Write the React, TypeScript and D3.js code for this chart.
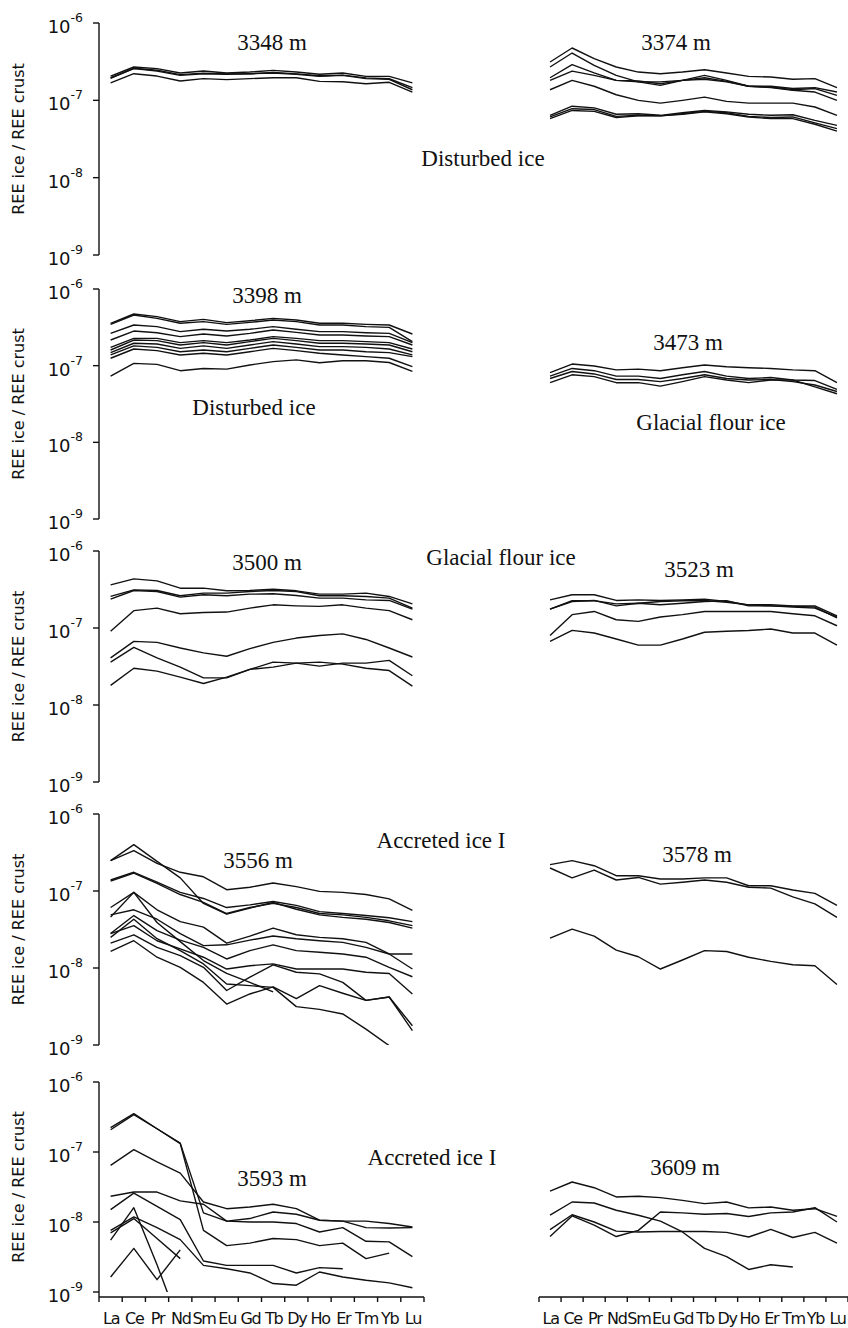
import { useEffect, useRef } from "react";
import * as d3 from "d3";

const elements = ["La", "Ce", "Pr", "Nd", "Sm", "Eu", "Gd", "Tb", "Dy", "Ho", "Er", "Tm", "Yb", "Lu"];
const yTicks = [1e-6, 1e-7, 1e-8, 1e-9];
const tickExp = ["-6", "-7", "-8", "-9"];

// REE ice / REE crust, one array per sample, values x 1e-7
const d3348 = [
  [2.05, 2.7, 2.57, 2.26, 2.39, 2.26, 2.32, 2.44, 2.32, 2.17, 2.26, 2.04, 2.04, 1.68],
  [1.96, 2.57, 2.39, 2.1, 2.21, 2.17, 2.21, 2.26, 2.17, 2.04, 2.1, 1.91, 1.87, 1.37],
  [1.93, 2.6, 2.45, 2.15, 2.25, 2.2, 2.2, 2.3, 2.2, 2.08, 2.12, 1.95, 1.9, 1.46],
  [1.68, 2.21, 2.06, 1.78, 1.91, 1.85, 1.91, 1.96, 1.96, 1.76, 1.74, 1.64, 1.71, 1.28],
];

const d3374 = [
  [3.13, 4.75, 3.46, 2.7, 2.32, 2.21, 2.32, 2.49, 2.26, 2.04, 2.0, 1.87, 1.91, 1.46],
  [2.7, 4.09, 2.84, 2.1, 1.73, 1.56, 1.81, 2.1, 1.81, 1.52, 1.52, 1.42, 1.46, 1.28],
  [1.96, 2.89, 2.26, 1.81, 1.78, 1.64, 1.81, 1.96, 1.76, 1.52, 1.49, 1.37, 1.42, 1.16],
  [1.81, 2.39, 2.1, 1.81, 1.73, 1.73, 1.81, 1.87, 1.73, 1.52, 1.46, 1.35, 1.28, 1.0],
  [1.37, 1.81, 1.52, 1.18, 1.0, 0.92, 1.0, 1.1, 0.97, 0.92, 0.92, 0.92, 0.82, 0.64],
  [0.64, 0.84, 0.8, 0.66, 0.67, 0.64, 0.69, 0.74, 0.71, 0.66, 0.64, 0.65, 0.55, 0.475],
  [0.61, 0.78, 0.76, 0.62, 0.64, 0.63, 0.67, 0.72, 0.69, 0.62, 0.6, 0.61, 0.51, 0.43],
  [0.58, 0.74, 0.72, 0.6, 0.63, 0.63, 0.66, 0.71, 0.67, 0.61, 0.58, 0.58, 0.49, 0.4],
];

const d3398 = [
  [3.57, 4.72, 4.36, 3.75, 4.02, 3.64, 3.86, 4.14, 3.94, 3.57, 3.57, 3.46, 3.39, 2.59],
  [3.46, 4.58, 4.14, 3.57, 3.75, 3.46, 3.67, 3.94, 3.75, 3.39, 3.39, 3.23, 3.16, 2.06],
  [2.64, 3.39, 3.23, 2.78, 2.98, 2.83, 2.98, 3.23, 2.98, 2.78, 2.78, 2.69, 2.64, 2.0],
  [2.16, 2.83, 2.69, 2.39, 2.59, 2.44, 2.64, 2.92, 2.72, 2.51, 2.51, 2.44, 2.39, 1.86],
  [1.73, 2.27, 2.27, 2.0, 2.12, 2.0, 2.16, 2.39, 2.27, 2.12, 2.12, 2.06, 2.0, 1.65],
  [1.6, 2.16, 2.12, 1.86, 2.0, 1.86, 2.06, 2.27, 2.12, 1.96, 1.96, 1.92, 1.86, 1.52],
  [1.48, 1.96, 1.92, 1.68, 1.81, 1.68, 1.86, 2.06, 1.92, 1.77, 1.77, 1.73, 1.65, 1.38],
  [1.38, 1.81, 1.73, 1.52, 1.6, 1.52, 1.68, 1.86, 1.73, 1.6, 1.6, 1.52, 1.48, 1.31],
  [1.25, 1.65, 1.57, 1.38, 1.45, 1.38, 1.52, 1.68, 1.57, 1.45, 1.38, 1.31, 1.25, 0.97],
  [0.73, 1.07, 1.04, 0.86, 0.92, 0.9, 1.02, 1.13, 1.19, 1.09, 1.16, 1.16, 1.1, 0.84],
];

const d3473 = [
  [0.81, 1.05, 0.99, 0.88, 0.9, 0.86, 0.94, 1.02, 0.97, 0.94, 0.92, 0.88, 0.86, 0.6],
  [0.73, 0.92, 0.86, 0.73, 0.73, 0.68, 0.76, 0.84, 0.73, 0.68, 0.7, 0.65, 0.64, 0.49],
  [0.68, 0.84, 0.78, 0.66, 0.66, 0.62, 0.68, 0.76, 0.68, 0.65, 0.66, 0.62, 0.56, 0.46],
  [0.6, 0.76, 0.72, 0.6, 0.6, 0.54, 0.62, 0.72, 0.65, 0.6, 0.65, 0.65, 0.53, 0.43],
];

const d3500 = [
  [3.63, 4.35, 4.09, 3.29, 3.29, 3.04, 3.07, 3.19, 3.04, 2.75, 2.75, 2.84, 2.57, 2.06],
  [2.57, 3.13, 3.07, 2.62, 2.84, 2.84, 2.98, 3.07, 2.98, 2.62, 2.62, 2.57, 2.44, 1.81],
  [2.37, 3.07, 2.98, 2.52, 2.7, 2.62, 2.75, 2.78, 2.64, 2.44, 2.44, 2.32, 2.28, 1.76],
  [0.906, 1.68, 1.81, 1.53, 1.59, 1.61, 1.81, 2.0, 1.94, 1.91, 2.0, 1.81, 1.68, 1.28],
  [0.41, 0.67, 0.65, 0.55, 0.475, 0.43, 0.54, 0.65, 0.74, 0.8, 0.84, 0.71, 0.55, 0.42],
  [0.36, 0.56, 0.41, 0.31, 0.225, 0.225, 0.29, 0.36, 0.35, 0.32, 0.35, 0.35, 0.38, 0.24],
  [0.18, 0.3, 0.275, 0.23, 0.19, 0.23, 0.29, 0.31, 0.35, 0.36, 0.34, 0.3, 0.28, 0.176],
];

const d3523 = [
  [2.32, 2.7, 2.7, 2.28, 2.32, 2.28, 2.32, 2.37, 2.21, 2.0, 2.0, 1.94, 1.94, 1.44],
  [1.76, 2.21, 2.28, 1.94, 2.1, 2.21, 2.26, 2.28, 2.15, 2.0, 1.94, 1.87, 1.81, 1.39],
  [1.76, 2.26, 2.26, 2.06, 2.1, 2.0, 2.1, 2.21, 2.26, 1.94, 1.94, 1.91, 1.87, 1.35],
  [0.8, 1.49, 1.64, 1.28, 1.22, 1.39, 1.49, 1.64, 1.64, 1.64, 1.64, 1.53, 1.44, 1.07],
  [0.67, 0.93, 0.86, 0.72, 0.6, 0.6, 0.72, 0.88, 0.906, 0.93, 0.97, 0.86, 0.86, 0.6],
];

const d3556 = [
  [2.48, 3.34, 2.29, 1.75, 1.53, 1.04, 1.12, 1.27, 1.14, 0.99, 0.96, 0.9, 0.79, 0.56],
  [2.48, 4.0, 2.43, 1.48, 0.69, 0.5, 0.6, 0.71, 0.58, 0.49, 0.455, 0.43, 0.39, 0.33],
  [1.39, 1.75, 1.3, 0.96, 0.8, 0.61, 0.66, 0.73, 0.65, 0.54, 0.51, 0.48, 0.45, 0.4],
  [1.34, 1.71, 1.26, 0.9, 0.71, 0.51, 0.61, 0.69, 0.61, 0.51, 0.49, 0.455, 0.41, 0.355],
  [0.61, 0.96, 0.57, 0.4, 0.34, 0.21, 0.26, 0.33, 0.27, 0.25, 0.24, 0.215, 0.152, 0.152],
  [0.49, 0.57, 0.43, 0.28, 0.195, 0.2, 0.23, 0.26, 0.24, 0.226, 0.215, 0.185, 0.152, 0.097],
  [0.46, 0.96, 0.39, 0.22, 0.125, 0.085, 0.065, 0.049, null, null, null, null, null, null],
  [0.28, 0.48, 0.305, 0.23, 0.185, 0.131, 0.168, 0.2, 0.168, 0.16, 0.152, 0.138, 0.102, 0.077],
  [0.28, 0.355, 0.226, 0.177, 0.138, 0.097, 0.107, 0.113, 0.097, 0.097, 0.097, 0.088, 0.085, 0.046],
  [0.21, 0.27, 0.185, 0.145, 0.102, 0.051, 0.076, 0.11, 0.088, 0.084, 0.065, 0.038, 0.042, 0.0178],
  [0.164, 0.226, 0.138, 0.102, 0.065, 0.034, 0.046, 0.057, 0.04, 0.059, 0.047, 0.038, 0.042, 0.0154],
  [0.25, 0.43, 0.24, 0.168, 0.113, 0.062, 0.059, 0.056, 0.0315, 0.029, 0.0253, 0.0161, 0.0098, null],
];

const d3578 = [
  [2.2, 2.48, 2.13, 1.58, 1.58, 1.43, 1.43, 1.48, 1.48, 1.17, 1.17, 1.03, 0.93, 0.65],
  [1.99, 1.48, 1.87, 1.39, 1.5, 1.23, 1.3, 1.39, 1.3, 1.12, 1.09, 0.84, 0.68, 0.455],
  [0.245, 0.32, 0.26, 0.171, 0.14, 0.097, 0.127, 0.168, 0.164, 0.138, 0.122, 0.11, 0.107, 0.061],
];

// values x 1e-8
const d3593 = [
  [22.3, 35.3, 21.5, 13.4, 1.35, 1.03, 1.12, 1.39, 1.29, 1.06, 1.03, 1.03, 0.95, 0.85],
  [20.8, 34.1, 21.5, 13.2, 0.76, 0.46, 0.5, 0.58, 0.56, 0.46, 0.5, 0.3, 0.36, null],
  [6.45, 10.8, 7.2, 5.0, 1.93, 1.55, 1.64, 1.79, 1.55, 1.06, 1.03, 0.83, 0.82, 0.83],
  [2.33, 2.68, 2.68, 2.0, 1.79, 1.03, 1.0, 1.0, 0.95, 0.72, 0.83, 0.53, 0.52, 0.32],
  [1.5, 2.59, 1.67, 1.08, 0.277, 0.24, 0.24, 0.24, 0.187, 0.223, 0.215, null, null, null],
  [0.76, 1.18, 0.83, 0.56, 0.24, 0.215, 0.187, 0.132, 0.125, 0.193, 0.164, 0.147, 0.135, 0.115],
  [0.164, 0.42, 0.15, 0.4, null, null, null, null, null, null, null, null, null, null],
  [0.55, 1.6, 0.245, 0.032, null, null, null, null, null, null, null, null, null, null],
  [0.7, 1.12, 0.58, 0.3, null, null, null, null, null, null, null, null, null, null],
];

const d3609 = [
  [2.77, 3.73, 3.09, 2.28, 2.33, 2.23, 2.04, 1.83, 1.93, 1.59, 1.64, 1.47, 1.55, 1.2],
  [1.25, 1.93, 1.87, 1.47, 1.25, 1.03, 0.72, 0.42, 0.32, 0.21, 0.245, 0.228, null, null],
  [0.78, 1.27, 1.0, 0.74, 0.72, 0.73, 0.73, 0.73, 0.71, 0.61, 0.785, 0.6, 0.71, 0.5],
  [0.62, 1.22, 0.9, 0.62, 0.76, 1.39, 1.35, 1.29, 1.32, 1.2, 1.35, 1.39, 1.6, 1.0],
];

const depths = ["3348 m", "3374 m", "3398 m", "3473 m", "3500 m", "3523 m", "3556 m", "3578 m", "3593 m", "3609 m"];
const units = [1e-7, 1e-7, 1e-7, 1e-7, 1e-7, 1e-7, 1e-7, 1e-7, 1e-8, 1e-8];
const samples = [d3348, d3374, d3398, d3473, d3500, d3523, d3556, d3578, d3593, d3609];
const facies = ["Disturbed ice", "Disturbed ice", "Glacial flour ice", "Glacial flour ice", "Accreted ice I", "Accreted ice I"];

export default function App() {
  const ref = useRef<SVGSVGElement>(null);

  useEffect(() => {
    const svg = d3.select(ref.current);
    svg.selectAll("*").remove();

    // layout, in px
    const rows = [
      { top: 23, bottom: 255 },
      { top: 289, bottom: 519 },
      { top: 551, bottom: 782 },
      { top: 814, bottom: 1045 },
      { top: 1082, bottom: 1292 },
    ];
    const cols: [number, number][] = [[99, 424], [539, 848]];
    const axisY = 1297;
    const depthPos = [[272, 50], [676, 50], [267, 303], [688, 350], [267, 570], [699, 577], [258, 868], [697, 862], [272, 1186], [685, 1175]];
    const faciesPos = [[483, 166], [254, 415], [711, 430], [501, 565], [441, 848], [432, 1165]];
    const sans = "'DejaVu Sans', sans-serif";
    const serif = "'Liberation Serif', 'Times New Roman', serif";

    samples.forEach((lines, k) => {
      const row = rows[Math.floor(k / 2)];
      const x = d3.scaleBand().domain(elements).range(cols[k % 2]);
      const y = d3.scaleLog().domain([1e-9, 1e-6]).range([row.bottom, row.top]);
      const unit = units[k];

      svg.append("clipPath")
        .attr("id", `clip${k}`)
        .append("rect")
        .attr("x", cols[k % 2][0])
        .attr("y", row.top - 4)
        .attr("width", cols[k % 2][1] - cols[k % 2][0])
        .attr("height", row.bottom - row.top + 4);

      const line = d3.line<number | null>()
        .defined((d) => d != null)
        .x((_, i) => (x(elements[i]) as number) + x.bandwidth() / 2)
        .y((d) => y((d as number) * unit));

      svg.append("g")
        .attr("clip-path", `url(#clip${k})`)
        .selectAll("path")
        .data(lines)
        .join("path")
        .attr("d", (d) => line(d))
        .attr("fill", "none")
        .attr("stroke", "#111")
        .attr("stroke-width", 1.4)
        .attr("stroke-linejoin", "round");

      svg.append("text")
        .attr("x", depthPos[k][0])
        .attr("y", depthPos[k][1])
        .attr("text-anchor", "middle")
        .attr("font-family", serif)
        .attr("font-size", 23)
        .attr("fill", "#111")
        .text(depths[k]);

      // y axis on the left column only
      if (k % 2 === 0) {
        const ax = svg.append("g");
        const last = k === 8;
        ax.append("line")
          .attr("x1", 99).attr("x2", 99)
          .attr("y1", row.top).attr("y2", last ? axisY : row.bottom)
          .attr("stroke", "#111").attr("stroke-width", 1.4);
        yTicks.forEach((t, i) => {
          ax.append("line")
            .attr("x1", 93).attr("x2", 99)
            .attr("y1", y(t)).attr("y2", y(t))
            .attr("stroke", "#111").attr("stroke-width", 1.4);
          const lab = ax.append("text")
            .attr("x", 83)
            .attr("y", y(t) + 10)
            .attr("text-anchor", "end")
            .attr("font-family", sans)
            .attr("fill", "#111");
          lab.append("tspan").attr("font-size", 18).text("10");
          lab.append("tspan").attr("font-size", 12.5).attr("dy", -11).text(tickExp[i]);
        });
        ax.append("text")
          .attr("transform", `translate(24,${(row.top + row.bottom) / 2}) rotate(-90)`)
          .attr("text-anchor", "middle")
          .attr("font-family", sans)
          .attr("font-size", 16)
          .attr("fill", "#111")
          .text("REE ice / REE crust");
      }

      // x axis on the bottom row
      if (k >= 8) {
        const ax = svg.append("g");
        const [x0, x1] = cols[k % 2];
        ax.append("line")
          .attr("x1", x0).attr("x2", x1)
          .attr("y1", axisY).attr("y2", axisY)
          .attr("stroke", "#111").attr("stroke-width", 1.4);
        d3.range(elements.length + 1).forEach((i) => {
          const tx = x0 + i * x.step();
          ax.append("line")
            .attr("x1", tx).attr("x2", tx)
            .attr("y1", axisY).attr("y2", axisY + 5)
            .attr("stroke", "#111").attr("stroke-width", 1.4);
        });
        ax.selectAll("text.el")
          .data(elements)
          .join("text")
          .attr("class", "el")
          .attr("x", (d) => (x(d) as number) + x.bandwidth() / 2 + 0.6)
          .attr("y", 1324)
          .attr("text-anchor", "middle")
          .attr("font-family", sans)
          .attr("font-size", 16)
          .attr("letter-spacing", -1.2)
          .attr("fill", "#111")
          .text((d) => d);
      }
    });

    facies.forEach((f, i) => {
      svg.append("text")
        .attr("x", faciesPos[i][0])
        .attr("y", faciesPos[i][1])
        .attr("text-anchor", "middle")
        .attr("font-family", serif)
        .attr("font-size", 23)
        .attr("fill", "#111")
        .text(f);
    });
  }, []);

  return (
    <svg
      ref={ref}
      width={848}
      height={1328}
      style={{ position: "absolute", left: 0, top: 0, background: "#fff" }}
    ></svg>
  );
}
